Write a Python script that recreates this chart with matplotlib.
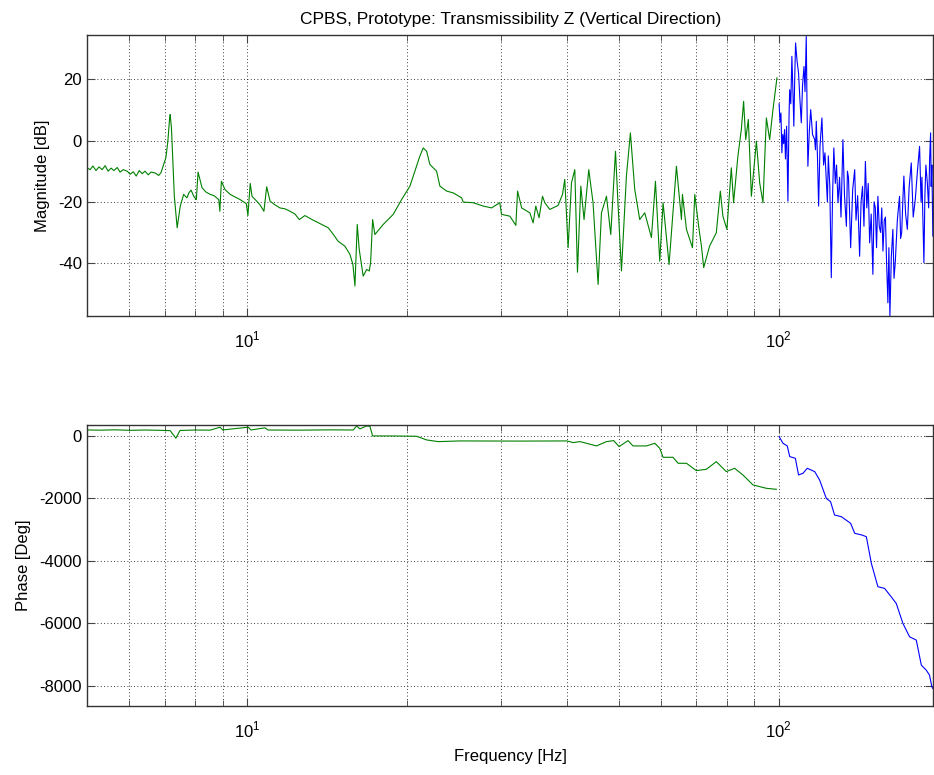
import numpy as np
import matplotlib
matplotlib.use("Agg")
import matplotlib.pyplot as plt
from matplotlib.ticker import FixedLocator, NullFormatter, FixedFormatter

plt.rcParams['font.family'] = ['Liberation Sans', 'DejaVu Sans']
plt.rcParams['mathtext.fontset'] = 'custom'
plt.rcParams['mathtext.rm'] = 'Liberation Sans'
plt.rcParams['axes.unicode_minus'] = False

# magnitude, below 100 Hz (green) and above (blue)
mag_green_f = [5.00, 5.07, 5.13, 5.20, 5.27, 5.34, 5.41, 5.48, 5.55, 5.62, 5.70, 5.77, 5.85, 5.95,
               6.03, 6.11, 6.19, 6.27, 6.35, 6.43, 6.52, 6.60, 6.72, 6.82, 6.89, 6.97, 7.04, 7.10,
               7.15, 7.17, 7.21, 7.26, 7.30, 7.39, 7.49, 7.60, 7.71, 7.78, 7.85, 7.94, 8.03, 8.09,
               8.23, 8.37, 8.53, 8.67, 8.85, 8.89, 8.95, 9.09, 9.30, 9.49, 9.71, 9.97, 10.04, 10.14,
               10.22, 10.43, 10.58, 10.76, 10.89, 11.05, 11.29, 11.53, 11.79, 12.05, 12.31, 12.54,
               12.85, 13.25, 13.82, 14.22, 14.51, 14.84, 15.28, 15.62, 15.82, 15.96, 16.12, 16.26,
               16.54, 16.79, 16.98, 17.08, 17.23, 17.40, 18.04, 18.84, 19.53, 20.25, 21.14, 21.45,
               21.77, 22.08, 22.73, 23.06, 23.74, 24.43, 25.33, 25.51, 26.63, 27.81, 28.84, 29.89,
               30.11, 31.22, 32.04, 32.28, 32.85, 34.04, 34.53, 34.93, 35.43, 35.96, 36.32, 37.11,
               38.47, 39.21, 39.60, 40.18, 40.77, 41.36, 41.84, 42.45, 43.05, 43.94, 44.76, 45.75,
               46.42, 47.44, 48.33, 49.33, 49.88, 50.62, 51.72, 52.62, 53.62, 54.79, 55.99, 57.64,
               58.65, 59.75, 60.62, 62.21, 64.23, 65.64, 65.92, 67.08, 68.85, 69.54, 70.84, 71.58,
               72.28, 74.14, 76.34, 77.68, 78.55, 79.92, 81.46, 82.27, 83.82, 85.07, 85.92, 86.70,
               87.70, 88.86, 90.81, 92.11, 93.44, 94.82, 96.18, 97.57, 99.27]
mag_green_db = [-8.9, -9.5, -8.3, -9.8, -8.6, -9.5, -8.2, -10.0, -9.0, -9.8, -8.8, -10.3, -9.5, -10.0,
                -11.0, -10.2, -11.6, -9.8, -10.8, -10.0, -11.2, -10.3, -10.6, -11.4, -10.5, -7.8, -5.5, 0.0,
                7.0, 8.5, 4.0, -8.0, -18.2, -28.5, -21.4, -17.6, -18.7, -17.0, -16.2, -18.2, -19.3, -10.3,
                -15.4, -16.8, -17.6, -18.0, -19.3, -23.1, -13.3, -16.0, -17.6, -18.4, -19.3, -20.6, -24.5, -14.0,
                -18.2, -19.8, -21.0, -23.1, -15.1, -19.8, -21.0, -22.0, -22.3, -23.1, -24.0, -25.8,
                -24.5, -25.8, -27.4, -28.5, -30.5, -32.9, -34.5, -37.2, -40.5, -47.5, -27.4, -35.6,
                -44.3, -42.1, -42.6, -39.9, -25.8, -30.7, -27.4, -24.1, -19.3, -14.9, -5.1, -2.4,
                -3.5, -7.8, -10.0, -14.9, -16.5, -17.1, -18.7, -20.1, -20.3, -21.4, -22.0, -20.3,
                -24.1, -24.7, -27.7, -16.5, -22.0, -23.6, -26.9, -21.4, -25.2, -18.2, -20.3, -22.5,
                -21.2, -17.6, -12.7, -35.0, -13.8, -9.5, -43.0, -14.9, -25.8, -9.5, -20.3, -47.0,
                -23.6, -18.2, -30.7, -3.5, -20.9, -42.6, -11.6, 2.5, -16.0, -25.8, -23.6, -31.7,
                -13.3, -39.4, -20.3, -40.5, -8.4, -25.8, -17.6, -29.0, -35.0, -17.6, -29.0, -34.5,
                -41.5, -34.5, -30.1, -16.5, -24.7, -29.0, -8.9, -20.3, -5.1, 3.6, 12.8, 0.3,
                6.9, -18.2, -0.2, -13.8, -20.3, 7.4, 0.3, 10.1, 20.5]

mag_blue_f = [100.2, 100.6, 101.0, 101.4, 101.8, 102.2, 102.6, 103.0, 103.5, 104.1, 104.6, 104.9,
              105.4, 105.9, 106.3, 106.8, 107.2, 107.6, 108.3, 109.0, 109.6, 110.3, 110.9, 111.6,
              112.1, 112.7, 113.1, 113.5, 114.2, 114.9, 115.8, 116.9, 117.3, 117.7, 118.3, 118.9,
              119.6, 120.6, 121.5, 122.2, 122.9, 123.5, 124.0, 124.8, 125.6, 126.3, 127.0, 127.8,
              128.5, 129.3, 130.2, 131.0, 132.1, 133.0, 134.1, 134.7, 135.3, 136.0, 136.6, 137.8,
              139.0, 139.8, 140.8, 142.0, 142.9, 143.8, 144.7, 145.6, 146.5, 147.4, 148.3, 149.3,
              150.4, 151.2, 152.0, 152.8, 153.7, 154.6, 155.5, 156.3, 157.1, 158.0, 158.8, 159.6,
              160.5, 161.2, 161.9, 162.9, 164.0, 164.8, 165.7, 167.2, 168.8, 169.6, 170.4, 171.2,
              172.0, 173.3, 174.6, 176.0, 177.6, 179.1, 180.7, 182.4, 184.1, 185.3, 186.0, 187.6,
              188.4, 189.2, 190.4, 191.5, 192.3, 193.1, 193.6, 194.2, 195.0]
mag_blue_db = [12.0, 6.0, 9.0, -4.0, 2.0, -1.0, 3.6, -6.0, 4.7, -19.8, 8.0, 16.6,
               12.0, 27.5, 18.0, 4.7, 20.0, 31.9, 26.0, 22.1, 14.0, 5.8, 18.0, 24.2,
               16.0, 34.0, 10.0, -8.4, 3.0, 10.1, 2.0, 0.3, -3.0, 6.3, -5.0, -21.4,
               -2.0, 7.4, -8.0, -4.0, -12.7, -20.0, -5.0, -15.0, -44.8, -18.0, -2.4, -14.0,
               -8.0, -20.3, -12.0, -25.0, 0.3, -18.0, -28.0, -10.0, -12.0, -24.0, -35.0, -16.0,
               -9.5, -26.0, -18.0, -37.8, -20.0, -15.0, -28.0, -6.8, -22.0, -14.0, -33.4, -24.0,
               -43.7, -20.0, -22.0, -35.0, -18.2, -28.0, -30.0, -22.0, -36.1, -26.0, -25.0, -40.0,
               -53.0, -35.0, -57.3, -38.0, -29.0, -45.0, -39.9, -26.0, -18.2, -32.0, -30.0, -20.0,
               -11.6, -24.0, -29.0, -15.0, -7.3, -25.0, -19.3, -10.0, -1.9, -20.0, -12.0, -39.9,
               -18.0, -8.0, -13.8, -22.0, -6.0, 2.5, -15.0, -8.0, -31.2]

# phase
ph_green_f = [5.00, 5.29, 5.65, 6.03, 6.43, 6.86, 7.17, 7.35, 7.48, 7.99, 8.52, 8.90, 9.00,
              10.06, 10.17, 10.81, 10.95, 12.54, 14.32, 15.84, 16.08, 16.31, 16.79, 17.03, 17.23,
              18.58, 20.84, 21.77, 22.89, 25.14, 32.61, 39.90, 40.47, 41.06, 42.27, 43.51, 45.43,
              47.44, 48.96, 50.10, 52.08, 53.22, 56.41, 58.48, 59.75, 60.62, 63.29, 64.71, 67.08,
              70.01, 73.11, 76.34, 79.72, 82.64, 85.66, 89.50, 94.82, 99.02]
ph_green_deg = [192, 185, 196, 180, 190, 180, 170, -74, 175, 190, 185, 280, 192,
                280, 190, 260, 190, 185, 195, 190, 320, 225, 320, 310, 0,
                0, -10, -128, -182, -160, -165, -160, -182, -214, -182, -235, -320,
                -182, -150, -342, -150, -320, -320, -235, -395, -684, -684, -876, -876,
                -1111, -1068, -823, -1143, -1036, -1250, -1570, -1677, -1709]

ph_blue_f = [100.2, 101.9, 103.8, 104.9, 107.5, 109.0, 111.1, 113.2, 116.9, 119.4, 122.9, 125.2,
             127.4, 131.2, 136.6, 139.0, 143.4, 146.2, 149.4, 153.7, 158.2, 162.8, 166.4, 171.3,
             176.3, 181.5, 185.5, 189.5, 192.2, 194.2, 195.0]
ph_blue_deg = [-20, -235, -320, -662, -716, -1250, -1197, -1036, -1143, -1410, -1998, -2104,
               -2532, -2586, -2799, -3118, -3173, -3227, -4081, -4829, -4882, -5151, -5364, -6005,
               -6433, -6538, -7340, -7500, -7660, -8034, -8090]

green = '#008000'
blue = '#0000ff'

fig = plt.figure(figsize=(9.34, 7.75), dpi=100)
ax1 = fig.add_axes([0.0931, 0.5923, 0.9063, 0.3626])
ax2 = fig.add_axes([0.0931, 0.0890, 0.9063, 0.3626])

ax1.semilogx(mag_green_f, mag_green_db, color=green, lw=0.8)
ax1.semilogx(mag_blue_f, mag_blue_db, color=blue, lw=0.8)
ax2.semilogx(ph_green_f, ph_green_deg, color=green, lw=0.8)
ax2.semilogx(ph_blue_f, ph_blue_deg, color=blue, lw=0.8)

ax1.set_ylim(-57.3, 34.5)
ax1.set_yticks([-40, -20, 0, 20])
ax2.set_ylim(-8650, 350)
ax2.set_yticks([-8000, -6000, -4000, -2000, 0])

minor = [6, 7, 8, 9, 20, 30, 40, 50, 60, 70, 80, 90]
for ax in (ax1, ax2):
    ax.set_xlim(5, 195.5)
    ax.xaxis.set_major_locator(FixedLocator([10, 100]))
    ax.xaxis.set_major_formatter(FixedFormatter([r'$10^{1}$', r'$10^{2}$']))
    ax.xaxis.set_minor_locator(FixedLocator(minor))
    ax.xaxis.set_minor_formatter(NullFormatter())
    ax.grid(True, which='both', axis='x', color='black', linestyle=(0, (1, 3)), lw=0.6)
    ax.grid(True, which='major', axis='y', color='black', linestyle=(0, (1, 3)), lw=0.6)
    ax.tick_params(which='both', direction='in', top=True, right=True, labelsize=12,
                   color='#444444')
    ax.tick_params(which='major', length=6, width=0.8)
    ax.tick_params(which='minor', length=4, width=0.6)
    ax.tick_params(axis='x', which='major', pad=10)
    for s in ax.spines.values():
        s.set_color('#333333')
        s.set_linewidth(1.0)

ax1.set_title('CPBS, Prototype: Transmissibility Z (Vertical Direction)', fontsize=12.5, pad=8)
ax1.set_ylabel('Magnitude [dB]', fontsize=12, labelpad=6)
ax2.set_ylabel('Phase [Deg]', fontsize=12, labelpad=6)
ax2.set_xlabel('Frequency [Hz]', fontsize=12, labelpad=6)

fig.savefig('out.png', dpi=100)
